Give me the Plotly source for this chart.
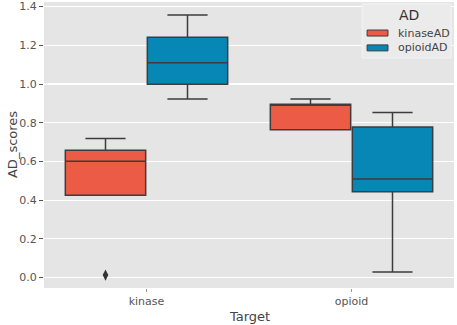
import plotly.graph_objects as go

# ---- data ----
targets = ["kinase", "opioid"]
series_names = ["kinaseAD", "opioidAD"]

kinaseAD_q1 = [0.425, 0.764]
kinaseAD_median = [0.601, 0.895]
kinaseAD_q3 = [0.658, 0.896]
kinaseAD_low = [0.425, 0.764]
kinaseAD_high = [0.718, 0.923]

opioidAD_q1 = [0.999, 0.444]
opioidAD_median = [1.110, 0.509]
opioidAD_q3 = [1.242, 0.778]
opioidAD_low = [0.923, 0.029]
opioidAD_high = [1.357, 0.853]

outlier_target = ["kinase"]
outlier_series = ["kinaseAD"]
outlier_values = [0.013]

y_ticks = [0.0, 0.2, 0.4, 0.6, 0.8, 1.0, 1.2, 1.4]

colors = {"kinaseAD": "#EB5B45", "opioidAD": "#0787B5"}
line_col = "#3d3d3d"

stats = {
    "kinaseAD": (kinaseAD_q1, kinaseAD_median, kinaseAD_q3, kinaseAD_low, kinaseAD_high),
    "opioidAD": (opioidAD_q1, opioidAD_median, opioidAD_q3, opioidAD_low, opioidAD_high),
}

n_series = len(series_names)
group_width = 0.8
box_w = group_width / n_series


def offset(name):
    j = series_names.index(name)
    return -group_width / 2 + box_w * (j + 0.5)


fig = go.Figure()
for name in series_names:
    q1, med, q3, lo, hi = stats[name]
    xs = [i + offset(name) for i in range(len(targets))]
    fig.add_trace(go.Box(
        name=name, x=xs, q1=q1, median=med, q3=q3,
        lowerfence=lo, upperfence=hi,
        width=box_w * 0.98, whiskerwidth=0.5,
        fillcolor=colors[name],
        line=dict(color=line_col, width=1.5),
        boxpoints=False, showlegend=False,
    ))

fig.add_trace(go.Scatter(
    x=[targets.index(t) + offset(s) for t, s in zip(outlier_target, outlier_series)],
    y=outlier_values, mode="markers",
    marker=dict(symbol="diamond-tall", size=8, color="#333333"),
    showlegend=False, hoverinfo="skip",
))

font_family = "DejaVu Sans"

# ---- legend drawn in paper coordinates ----
shapes = [dict(type="rect", xref="paper", yref="paper", x0=0.776, x1=0.993, y0=0.804, y1=0.993,
               fillcolor="#EBEBEB", line=dict(color="#F3F3F3", width=1), layer="above")]
annotations = [dict(text="AD", xref="paper", yref="paper", x=0.890, y=0.955,
                    showarrow=False, xanchor="center", yanchor="middle",
                    font=dict(size=14, color="#333333"))]
for k, name in enumerate(series_names):
    ytop = 0.902 - k * 0.052
    shapes.append(dict(type="rect", xref="paper", yref="paper", x0=0.788, x1=0.839,
                       y0=ytop - 0.021, y1=ytop, fillcolor=colors[name],
                       line=dict(color=line_col, width=1), layer="above"))
    annotations.append(dict(text=name, xref="paper", yref="paper", x=0.859, y=ytop - 0.0105,
                            showarrow=False, xanchor="left", yanchor="middle",
                            font=dict(size=11, color="#444444")))

# axis titles
annotations.append(dict(text="Target", xref="paper", yref="paper", x=0.5, y=-0.098,
                        showarrow=False, xanchor="center", yanchor="middle",
                        font=dict(size=13, color="#444444")))
annotations.append(dict(text="AD_scores", xref="paper", yref="paper", x=-0.078, y=0.5,
                        textangle=-90, showarrow=False, xanchor="center", yanchor="middle",
                        font=dict(size=13, color="#444444")))

fig.update_layout(
    width=457, height=325,
    margin=dict(l=44, r=3, t=2, b=37, autoexpand=False),
    paper_bgcolor="white", plot_bgcolor="#E5E5E5",
    font=dict(family=font_family, size=11, color="#555555"),
    showlegend=False,
    shapes=shapes, annotations=annotations,
    xaxis=dict(
        range=[-0.5, 1.5], tickvals=list(range(len(targets))), ticktext=targets,
        showgrid=False, zeroline=False, ticks="outside", ticklen=3, tickcolor="#999999",
        automargin=False, tickfont=dict(size=11, color="#555555"),
    ),
    yaxis=dict(
        range=[-0.054, 1.424], tickvals=y_ticks,
        tickformat=".1f", gridcolor="white", gridwidth=1.2, zeroline=False,
        ticks="outside", ticklen=4, tickcolor="#555555",
        automargin=False, tickfont=dict(size=11, color="#555555"),
    ),
)

fig.write_html(
    "out.html",
    config={"displayModeBar": False, "staticPlot": True},
    post_script="document.body.style.margin='0';document.body.style.overflow='hidden';",
)
